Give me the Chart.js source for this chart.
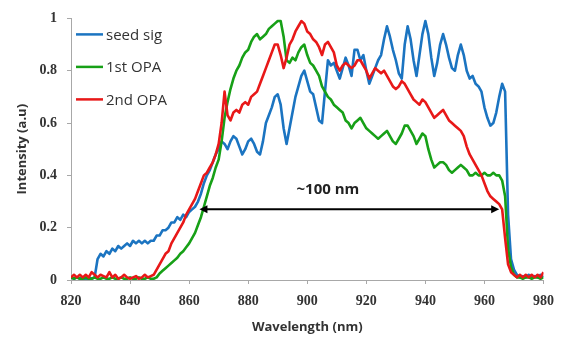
<!DOCTYPE html>
<html>
<head>
<meta charset="utf-8">
<script src="https://cdn.jsdelivr.net/npm/chart.js@4/dist/chart.umd.min.js"></script>
<style>
  html, body { margin: 0; padding: 0; background: #fff; }
  canvas { display: block; }
</style>
</head>
<body>
<canvas id="spectrum" width="563" height="338"></canvas>
<script>
// Wavelength grid (nm), one sample per nm
const wavelength = [
  820, 821, 822, 823, 824, 825, 826, 827, 828, 829, 830, 831, 832, 833, 834, 835, 836, 837, 838, 839,
  840, 841, 842, 843, 844, 845, 846, 847, 848, 849, 850, 851, 852, 853, 854, 855, 856, 857, 858, 859,
  860, 861, 862, 863, 864, 865, 866, 867, 868, 869, 870, 871, 872, 873, 874, 875, 876, 877, 878, 879,
  880, 881, 882, 883, 884, 885, 886, 887, 888, 889, 890, 891, 892, 893, 894, 895, 896, 897, 898, 899,
  900, 901, 902, 903, 904, 905, 906, 907, 908, 909, 910, 911, 912, 913, 914, 915, 916, 917, 918, 919,
  920, 921, 922, 923, 924, 925, 926, 927, 928, 929, 930, 931, 932, 933, 934, 935, 936, 937, 938, 939,
  940, 941, 942, 943, 944, 945, 946, 947, 948, 949, 950, 951, 952, 953, 954, 955, 956, 957, 958, 959,
  960, 961, 962, 963, 964, 965, 966, 967, 968, 969, 970, 971, 972, 973, 974, 975, 976, 977, 978, 979,
  980
];

// Normalised intensities
const seedSig = [
  0.01, 0.005, 0.01, 0.005, 0.01, 0.0, 0.01, 0.005, 0.01, 0.08,
  0.10, 0.09, 0.11, 0.10, 0.12, 0.11, 0.13, 0.12, 0.13, 0.14,
  0.13, 0.15, 0.14, 0.15, 0.14, 0.15, 0.14, 0.15, 0.15, 0.17,
  0.17, 0.19, 0.19, 0.20, 0.22, 0.22, 0.24, 0.23, 0.25, 0.24,
  0.26, 0.27, 0.28, 0.30, 0.33, 0.37, 0.40, 0.42, 0.45, 0.48,
  0.50, 0.53, 0.52, 0.50, 0.53, 0.55, 0.54, 0.51, 0.48, 0.50,
  0.53, 0.54, 0.52, 0.49, 0.48, 0.53, 0.60, 0.63, 0.66, 0.70,
  0.71, 0.67, 0.58, 0.52, 0.58, 0.64, 0.70, 0.74, 0.78, 0.80,
  0.76, 0.72, 0.71, 0.66, 0.61, 0.60, 0.72, 0.84, 0.82, 0.83,
  0.80, 0.77, 0.81, 0.85, 0.82, 0.78, 0.88, 0.88, 0.84, 0.86,
  0.80, 0.75, 0.78, 0.81, 0.84, 0.86, 0.92, 0.97, 0.93, 0.88,
  0.84, 0.79, 0.77, 0.90, 0.97, 0.92, 0.84, 0.78, 0.86, 0.94,
  0.99, 0.94, 0.85, 0.78, 0.83, 0.90, 0.94, 0.90, 0.85, 0.81,
  0.80, 0.86, 0.90, 0.86, 0.80, 0.77, 0.78, 0.75, 0.74, 0.72,
  0.66, 0.62, 0.59, 0.60, 0.64, 0.70, 0.75, 0.72, 0.25, 0.08,
  0.04, 0.02, 0.01, 0.015, 0.01, 0.02, 0.01, 0.015, 0.01, 0.02,
  0.01
];

const opa1 = [
  0.01, 0.005, 0.01, 0.005, 0.005, 0.01, 0.005, 0.005, 0.01, 0.005,
  0.005, 0.01, 0.005, 0.005, 0.01, 0.005, 0.005, 0.01, 0.005, 0.005,
  0.01, 0.005, 0.005, 0.01, 0.005, 0.005, 0.01, 0.005, 0.005, 0.01,
  0.025, 0.035, 0.045, 0.055, 0.065, 0.075, 0.085, 0.10, 0.11, 0.125,
  0.14, 0.16, 0.18, 0.21, 0.24, 0.28, 0.32, 0.36, 0.39, 0.43,
  0.46, 0.53, 0.62, 0.68, 0.73, 0.77, 0.80, 0.82, 0.85, 0.87,
  0.88, 0.91, 0.93, 0.94, 0.92, 0.93, 0.94, 0.96, 0.97, 0.98,
  0.99, 0.99, 0.93, 0.84, 0.83, 0.85, 0.84, 0.87, 0.89, 0.90,
  0.86, 0.83, 0.82, 0.80, 0.78, 0.74, 0.72, 0.70, 0.69, 0.67,
  0.66, 0.65, 0.64, 0.61, 0.60, 0.58, 0.60, 0.61, 0.62, 0.60,
  0.58, 0.57, 0.56, 0.55, 0.54, 0.55, 0.56, 0.57, 0.55, 0.53,
  0.52, 0.54, 0.56, 0.59, 0.59, 0.57, 0.55, 0.52, 0.54, 0.56,
  0.55, 0.50, 0.46, 0.43, 0.44, 0.45, 0.45, 0.44, 0.42, 0.41,
  0.42, 0.43, 0.44, 0.43, 0.42, 0.40, 0.40, 0.41, 0.40, 0.40,
  0.41, 0.40, 0.40, 0.41, 0.40, 0.40, 0.38, 0.32, 0.12, 0.05,
  0.02, 0.01, 0.01, 0.005, 0.01, 0.01, 0.005, 0.01, 0.01, 0.005,
  0.01
];

const opa2 = [
  0.01, 0.02, 0.01, 0.02, 0.01, 0.02, 0.01, 0.03, 0.02, 0.01,
  0.02, 0.015, 0.01, 0.03, 0.01, 0.02, 0.005, 0.01, 0.02, 0.01,
  0.005, 0.01, 0.015, 0.005, 0.01, 0.02, 0.01, 0.015, 0.02, 0.04,
  0.06, 0.08, 0.10, 0.11, 0.14, 0.16, 0.18, 0.20, 0.22, 0.25,
  0.27, 0.29, 0.31, 0.34, 0.37, 0.40, 0.41, 0.43, 0.45, 0.48,
  0.52, 0.60, 0.72, 0.63, 0.61, 0.64, 0.65, 0.64, 0.67, 0.68,
  0.67, 0.70, 0.71, 0.72, 0.75, 0.78, 0.81, 0.84, 0.87, 0.90,
  0.90, 0.86, 0.81, 0.85, 0.90, 0.92, 0.95, 0.97, 0.99, 0.98,
  0.95, 0.94, 0.92, 0.91, 0.89, 0.86, 0.90, 0.91, 0.89, 0.87,
  0.82, 0.80, 0.82, 0.83, 0.82, 0.81, 0.82, 0.84, 0.84, 0.82,
  0.80, 0.77, 0.79, 0.81, 0.80, 0.79, 0.80, 0.78, 0.76, 0.74,
  0.73, 0.74, 0.76, 0.75, 0.73, 0.71, 0.69, 0.68, 0.67, 0.69,
  0.68, 0.66, 0.64, 0.62, 0.63, 0.64, 0.65, 0.63, 0.61, 0.60,
  0.59, 0.58, 0.57, 0.55, 0.51, 0.48, 0.46, 0.44, 0.42, 0.40,
  0.37, 0.34, 0.32, 0.31, 0.30, 0.29, 0.27, 0.16, 0.06, 0.03,
  0.02, 0.01, 0.02, 0.01, 0.02, 0.01, 0.02, 0.01, 0.02, 0.01,
  0.03
];

const seriesNames = ['seed sig', '1st OPA', '2nd OPA'];
const xTickValues = [820, 840, 860, 880, 900, 920, 940, 960, 980];
const yTickValues = [0, 0.2, 0.4, 0.6, 0.8, 1];
const yTickLabels = ['0', '0.2', '0.4', '0.6', '0.8', '1'];

// bandwidth marker: arrow ends (nm), height, and its label
const spanEnds = [863.5, 965];
const spanLevel = 0.27;
const spanText = '~100 nm';
const spanTextAt = [907, 0.345];

const colors = ['#1b74c1', '#17a017', '#e81818'];
const axisGrey = '#a8a8a8';
const textDark = '#333333';

// legend drawn inside the plot, top-left, line sample + label per row
const insideLegend = {
  id: 'insideLegend',
  afterDraw(chart) {
    const { ctx, chartArea } = chart;
    ctx.save();
    ctx.font = '15px "Open Sans"';
    ctx.textBaseline = 'middle';
    chart.data.datasets.forEach((ds, i) => {
      const y = chartArea.top + 16 + i * 32.5;
      const x0 = chartArea.left + 5;
      ctx.strokeStyle = ds.borderColor;
      ctx.lineWidth = 2.5;
      ctx.beginPath();
      ctx.moveTo(x0, y);
      ctx.lineTo(x0 + 27, y);
      ctx.stroke();
      ctx.fillStyle = textDark;
      ctx.fillText(ds.label, x0 + 30, y + 1);
    });
    ctx.restore();
  }
};

// double-headed arrow showing the ~100 nm span
const spanArrow = {
  id: 'spanArrow',
  afterDatasetsDraw(chart) {
    const { ctx, scales } = chart;
    const x1 = scales.x.getPixelForValue(spanEnds[0]);
    const x2 = scales.x.getPixelForValue(spanEnds[1]);
    const y = scales.y.getPixelForValue(spanLevel);
    const head = 8, half = 4;
    ctx.save();
    ctx.strokeStyle = '#000';
    ctx.fillStyle = '#000';
    ctx.lineWidth = 2;
    ctx.beginPath();
    ctx.moveTo(x1 + head - 1, y);
    ctx.lineTo(x2 - head + 1, y);
    ctx.stroke();
    ctx.beginPath();
    ctx.moveTo(x1, y);
    ctx.lineTo(x1 + head, y - half);
    ctx.lineTo(x1 + head, y + half);
    ctx.closePath();
    ctx.fill();
    ctx.beginPath();
    ctx.moveTo(x2, y);
    ctx.lineTo(x2 - head, y - half);
    ctx.lineTo(x2 - head, y + half);
    ctx.closePath();
    ctx.fill();
    ctx.font = 'bold 15px "Open Sans"';
    ctx.fillStyle = '#222';
    ctx.textAlign = 'center';
    ctx.textBaseline = 'middle';
    ctx.fillText(spanText, scales.x.getPixelForValue(spanTextAt[0]), scales.y.getPixelForValue(spanTextAt[1]));
    ctx.restore();
  }
};

const tickFont = { family: '"Liberation Serif"', size: 14, weight: 'bold' };
const titleFont = { family: '"Open Sans"', size: 13, weight: 'bold' };

new Chart(document.getElementById('spectrum'), {
  type: 'line',
  data: {
    labels: wavelength,
    datasets: [
      { label: seriesNames[0], data: seedSig, borderColor: colors[0], backgroundColor: colors[0], order: 2 },
      { label: seriesNames[1], data: opa1, borderColor: colors[1], backgroundColor: colors[1], order: 1 },
      { label: seriesNames[2], data: opa2, borderColor: colors[2], backgroundColor: colors[2], order: 0 }
    ]
  },
  options: {
    responsive: false,
    animation: false,
    layout: { padding: { top: 16, right: 12, left: 0, bottom: 0 } },
    elements: {
      point: { radius: 0 },
      line: { borderWidth: 2.6, tension: 0, borderJoinStyle: 'round' }
    },
    plugins: {
      legend: { display: false },
      tooltip: { enabled: false }
    },
    scales: {
      x: {
        type: 'linear',
        min: 820,
        max: 980,
        afterBuildTicks: s => { s.ticks = xTickValues.map(v => ({ value: v })); },
        afterFit: s => { s.height = 58; },
        grid: { drawOnChartArea: false, tickLength: 4, color: axisGrey },
        border: { color: axisGrey },
        ticks: { font: tickFont, color: textDark, padding: 9, maxRotation: 0 },
        title: { display: true, text: 'Wavelength (nm)', font: titleFont, color: textDark, padding: { top: 0, bottom: 3 } }
      },
      y: {
        min: 0,
        max: 1,
        afterBuildTicks: s => { s.ticks = yTickValues.map(v => ({ value: v })); },
        afterFit: s => { s.width = 71; },
        grid: { drawOnChartArea: false, tickLength: 4, color: axisGrey },
        border: { color: axisGrey },
        ticks: {
          font: tickFont,
          color: textDark,
          padding: 10,
          callback: (v, i) => yTickLabels[i]
        },
        title: { display: true, text: 'Intensity (a.u)', font: titleFont, color: textDark, padding: { top: 14, bottom: 0 } }
      }
    }
  },
  plugins: [spanArrow, insideLegend]
});
</script>
</body>
</html>
